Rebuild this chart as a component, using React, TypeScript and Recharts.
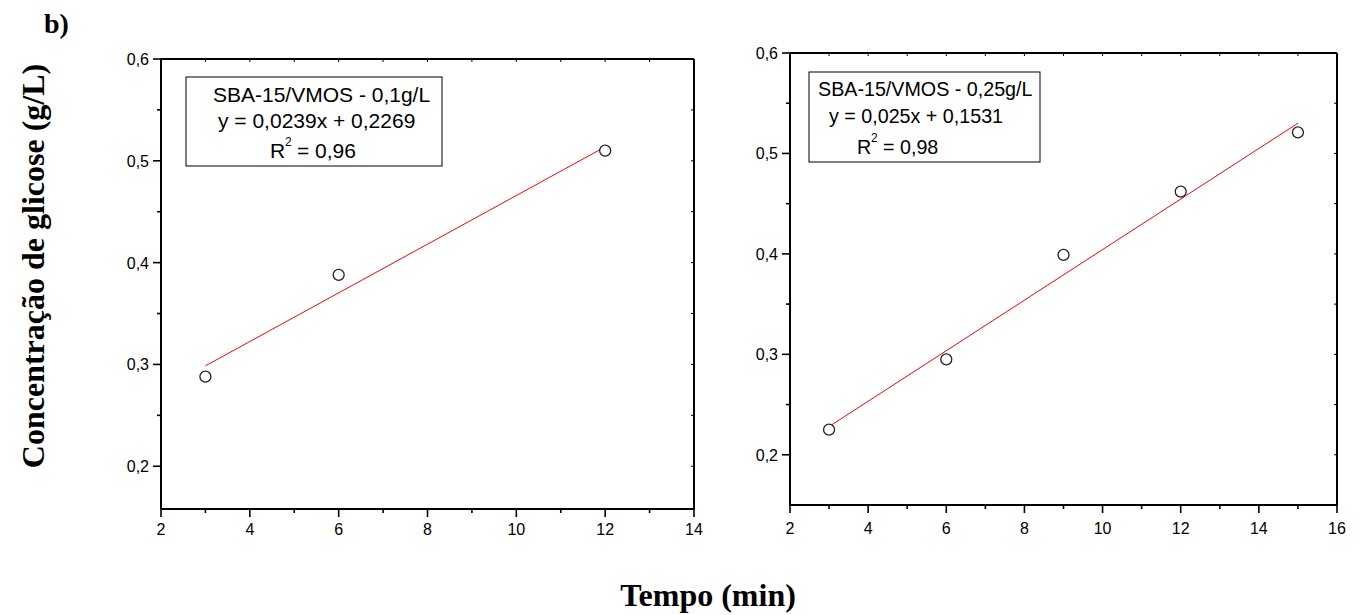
import { ComposedChart, Line, Scatter, XAxis, YAxis } from "recharts";

// panel a: 0,1 g/L
const leftPoints = [
  { x: 3, y: 0.288 },
  { x: 6, y: 0.388 },
  { x: 12, y: 0.51 },
];
const leftFit = [
  { x: 3, y: 0.2986 },
  { x: 12, y: 0.5137 },
];
const leftXTicks = [2, 3, 4, 5, 6, 7, 8, 9, 10, 11, 12, 13, 14];

// panel b: 0,25 g/L
const rightPoints = [
  { x: 3, y: 0.225 },
  { x: 6, y: 0.295 },
  { x: 9, y: 0.399 },
  { x: 12, y: 0.462 },
  { x: 15, y: 0.521 },
];
const rightFit = [
  { x: 3, y: 0.2281 },
  { x: 15, y: 0.5301 },
];
const rightXTicks = [2, 3, 4, 5, 6, 7, 8, 9, 10, 11, 12, 13, 14, 15, 16];

const yTicks = [0.2, 0.25, 0.3, 0.35, 0.4, 0.45, 0.5, 0.55, 0.6];

const SANS = "'Liberation Sans', Arial, sans-serif";
const SERIF = "'Liberation Serif', 'Times New Roman', serif";
const AXIS = { stroke: "#000", strokeWidth: 2 };

const isMajorY = (v: number) => Math.abs(v * 10 - Math.round(v * 10)) < 1e-6;
const fmtY = (v: number) => v.toFixed(1).replace(".", ",");

function BottomTick({ x, y, payload, labelGap }: any) {
  const major = payload.value % 2 === 0;
  return (
    <g>
      <line x1={x} x2={x} y1={y} y2={y + (major ? 8 : 4)} stroke="#000" strokeWidth={1.6} />
      {major && (
        <text x={x} y={y + labelGap} textAnchor="middle" fontFamily={SANS} fontSize={16} fill="#000">
          {payload.value}
        </text>
      )}
    </g>
  );
}

function LeftTick({ x, y, payload }: any) {
  const major = isMajorY(payload.value);
  return (
    <g>
      <line x1={x} x2={x - (major ? 8 : 4)} y1={y} y2={y} stroke="#000" strokeWidth={1.6} />
      {major && (
        <text x={x - 12} y={y + 6} textAnchor="end" fontFamily={SANS} fontSize={16} fill="#000">
          {fmtY(payload.value)}
        </text>
      )}
    </g>
  );
}

function TopTick({ x, y }: any) {
  return <line x1={x} x2={x} y1={y} y2={y + 3} stroke="#000" strokeWidth={1} />;
}

function RightTick({ x, y }: any) {
  return <line x1={x} x2={x - 3} y1={y} y2={y} stroke="#000" strokeWidth={1} />;
}

const circle = (p: any) => (
  <circle cx={p.cx} cy={p.cy} r={5.5} fill="#fff" stroke="#222" strokeWidth={1.3} />
);

function Panel({ points, fit, xTicks, xMax, yMin, labelGap, margin, width, height }: any) {
  return (
    <ComposedChart width={width} height={height} margin={margin}>
      <XAxis
        dataKey="x"
        type="number"
        domain={[2, xMax]}
        ticks={xTicks}
        interval={0}
        allowDataOverflow
        height={1}
        tickSize={0}
        tickMargin={0}
        stroke="#000"
        axisLine={AXIS}
        tickLine={false}
        tick={<BottomTick labelGap={labelGap} />}
      />
      <XAxis
        xAxisId="top"
        orientation="top"
        dataKey="x"
        type="number"
        domain={[2, xMax]}
        ticks={xTicks}
        interval={0}
        allowDataOverflow
        height={1}
        tickSize={0}
        tickMargin={0}
        stroke="#000"
        axisLine={AXIS}
        tickLine={false}
        tick={<TopTick />}
      />
      <YAxis
        type="number"
        domain={[yMin, 0.6]}
        ticks={yTicks}
        interval={0}
        allowDataOverflow
        width={1}
        tickSize={0}
        tickMargin={0}
        stroke="#000"
        axisLine={AXIS}
        tickLine={false}
        tick={<LeftTick />}
      />
      <YAxis
        yAxisId="right"
        orientation="right"
        type="number"
        domain={[yMin, 0.6]}
        ticks={yTicks}
        interval={0}
        allowDataOverflow
        width={1}
        tickSize={0}
        tickMargin={0}
        stroke="#000"
        axisLine={AXIS}
        tickLine={false}
        tick={<RightTick />}
      />
      <Line
        data={fit}
        dataKey="y"
        type="linear"
        stroke="#ff0000"
        strokeWidth={1}
        dot={false}
        isAnimationActive={false}
      />
      <Scatter data={points} dataKey="y" shape={circle} isAnimationActive={false} />
    </ComposedChart>
  );
}

function Sup2({ x, y }: { x: number; y: number }) {
  return (
    <text x={x} y={y} fontFamily={SANS} fontSize={12} fill="#000">
      2
    </text>
  );
}

export default function App() {
  return (
    <div style={{ position: "absolute", left: 0, top: 0, width: 1360, height: 615, background: "#fff" }}>
      <div style={{ position: "absolute", left: 100, top: 40 }}>
        <Panel
          points={leftPoints}
          fit={leftFit}
          xTicks={leftXTicks}
          xMax={14}
          yMin={0.158}
          labelGap={26}
          width={620}
          height={520}
          margin={{ top: 18, right: 25, bottom: 50, left: 60 }}
        />
      </div>
      <div style={{ position: "absolute", left: 730, top: 30 }}>
        <Panel
          points={rightPoints}
          fit={rightFit}
          xTicks={rightXTicks}
          xMax={16}
          yMin={0.15}
          labelGap={29}
          width={630}
          height={520}
          margin={{ top: 22, right: 22, bottom: 44, left: 59 }}
        />
      </div>
      <svg
        width={1360}
        height={615}
        style={{ position: "absolute", left: 0, top: 0, pointerEvents: "none" }}
      >
        <text x={44} y={33} fontFamily={SERIF} fontWeight="bold" fontSize={28} fill="#000">
          b)
        </text>
        <text
          transform="translate(44,266) rotate(-90)"
          textAnchor="middle"
          fontFamily={SERIF}
          fontWeight="bold"
          fontSize={32}
          fill="#000"
        >
          Concentração de glicose (g/L)
        </text>
        <text x={708} y={606} textAnchor="middle" fontFamily={SERIF} fontWeight="bold" fontSize={32} fill="#000">
          Tempo (min)
        </text>

        <rect x={186} y={77} width={256} height={89} fill="#fff" stroke="#000" strokeWidth={1} />
        <text x={213} y={102} fontFamily={SANS} fontSize={21} fill="#000">
          SBA-15/VMOS - 0,1g/L
        </text>
        <text x={218} y={128} fontFamily={SANS} fontSize={21} fill="#000">
          y = 0,0239x + 0,2269
        </text>
        <text x={270} y={158} fontFamily={SANS} fontSize={21} fill="#000">
          R
        </text>
        <Sup2 x={285} y={146} />
        <text x={297} y={158} fontFamily={SANS} fontSize={21} fill="#000">
          = 0,96
        </text>

        <rect x={809} y={72} width={231} height={90} fill="#fff" stroke="#000" strokeWidth={1} />
        <text x={818} y={96} fontFamily={SANS} fontSize={19.7} fill="#000">
          SBA-15/VMOS - 0,25g/L
        </text>
        <text x={829} y={123} fontFamily={SANS} fontSize={19.7} fill="#000">
          y = 0,025x + 0,1531
        </text>
        <text x={857} y={154} fontFamily={SANS} fontSize={19.7} fill="#000">
          R
        </text>
        <Sup2 x={871} y={142} />
        <text x={883} y={154} fontFamily={SANS} fontSize={19.7} fill="#000">
          = 0,98
        </text>
      </svg>
    </div>
  );
}
